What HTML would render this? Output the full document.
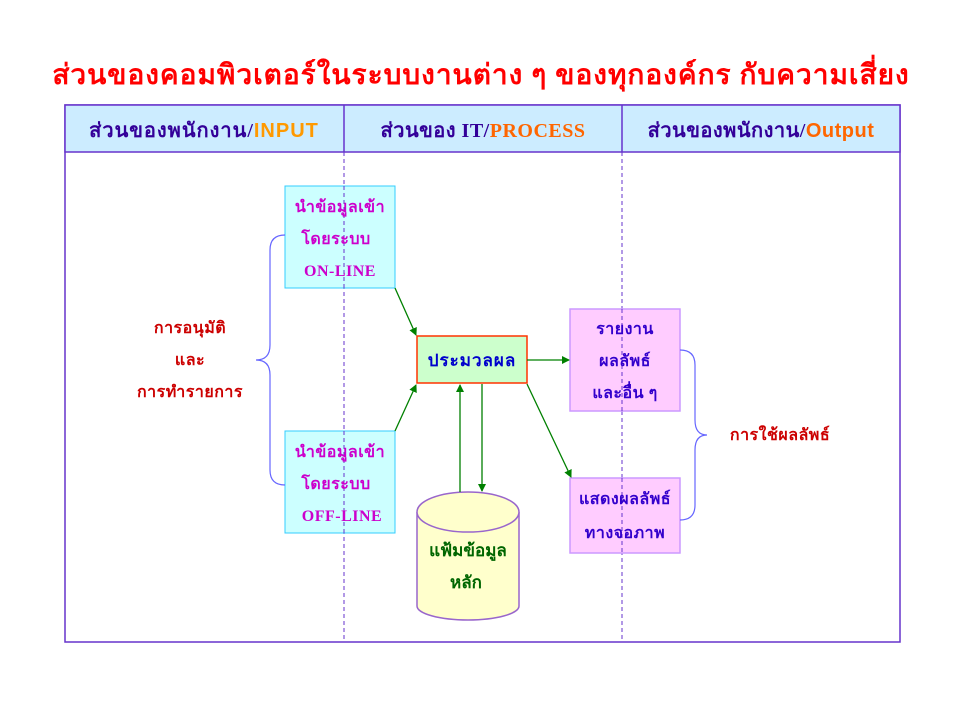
<!DOCTYPE html>
<html><head><meta charset="utf-8"><style>
html,body{margin:0;padding:0;background:#fff;width:960px;height:720px;overflow:hidden}
svg text{font-family:"Liberation Serif","DejaVu Sans",serif;font-weight:bold}
</style></head><body>
<svg width="960" height="720" viewBox="0 0 960 720" xmlns="http://www.w3.org/2000/svg">
<defs><marker id="a" markerWidth="8" markerHeight="8" refX="7" refY="4" orient="auto" markerUnits="userSpaceOnUse"><path d="M0,0 L8,4 L0,8 z" fill="#008000"/></marker></defs>
<text x="481" y="84" text-anchor="middle" font-size="28" letter-spacing="1" fill="#FF0000">ส่วนของคอมพิวเตอร์ในระบบงานต่าง ๆ ของทุกองค์กร กับความเสี่ยง</text>
<rect x="65" y="105" width="835" height="537" fill="#fff" stroke="#6633CC" stroke-width="1.5"/>
<rect x="65" y="105" width="835" height="47" fill="#CCECFF" stroke="#6633CC" stroke-width="1.5"/>
<line x1="344" y1="105" x2="344" y2="152" stroke="#6633CC" stroke-width="1.5"/>
<line x1="622" y1="105" x2="622" y2="152" stroke="#6633CC" stroke-width="1.5"/>
<line x1="344" y1="152" x2="344" y2="642" stroke="#6633CC" stroke-dasharray="4,3"/>
<line x1="622" y1="152" x2="622" y2="642" stroke="#6633CC" stroke-dasharray="4,3"/>
<text x="204" y="137" text-anchor="middle" font-size="20" letter-spacing="1" fill="#330099">ส่วนของพนักงาน/<tspan fill="#FF9900" font-family="Liberation Sans,sans-serif">INPUT</tspan></text>
<text x="483" y="137" text-anchor="middle" font-size="20" letter-spacing="0.5" fill="#330099">ส่วนของ IT/<tspan fill="#FF6600">PROCESS</tspan></text>
<text x="761" y="137" text-anchor="middle" font-size="20" letter-spacing="0.5" fill="#330099">ส่วนของพนักงาน/<tspan fill="#FF6600" font-family="Liberation Sans,sans-serif">Output</tspan></text>
<rect x="285" y="186" width="110" height="102" fill="#CCFFFF" stroke="#33CCFF"/>
<rect x="285" y="431" width="110" height="102" fill="#CCFFFF" stroke="#33CCFF"/>
<line x1="344" y1="186" x2="344" y2="288" stroke="#6633CC" stroke-dasharray="4,3"/>
<line x1="344" y1="431" x2="344" y2="533" stroke="#6633CC" stroke-dasharray="4,3"/>
<g font-size="16" fill="#CC00CC" text-anchor="middle" letter-spacing="0.5">
<text x="340" y="212">นำข้อมูลเข้า</text><text x="336" y="244">โดยระบบ</text><text x="340" y="276">ON-LINE</text>
<text x="340" y="457">นำข้อมูลเข้า</text><text x="336" y="489">โดยระบบ</text><text x="342" y="521">OFF-LINE</text>
</g>
<rect x="417" y="336" width="110" height="47" fill="#CCFFCC" stroke="#FF3300" stroke-width="1.5"/>
<text x="472" y="366" text-anchor="middle" font-size="17" letter-spacing="1" fill="#0000CC">ประมวลผล</text>
<rect x="570" y="309" width="110" height="102" fill="#FFCCFF" stroke="#CC99FF" stroke-width="1.5"/>
<rect x="570" y="478" width="110" height="75" fill="#FFCCFF" stroke="#CC99FF" stroke-width="1.5"/>
<line x1="622" y1="309" x2="622" y2="411" stroke="#6633CC" stroke-dasharray="4,3"/>
<line x1="622" y1="478" x2="622" y2="553" stroke="#6633CC" stroke-dasharray="4,3"/>
<g font-size="16" fill="#3300CC" text-anchor="middle" letter-spacing="0.5">
<text x="625" y="334">รายงาน</text><text x="625" y="366">ผลลัพธ์</text><text x="625" y="398">และอื่น ๆ</text>
<text x="625" y="504">แสดงผลลัพธ์</text><text x="625" y="538">ทางจอภาพ</text>
</g>
<path d="M417,512 L417,606 A51,14 0 0 0 519,606 L519,512" fill="#FFFFCC" stroke="#9966CC" stroke-width="1.5"/>
<ellipse cx="468" cy="512" rx="51" ry="20" fill="#FFFFCC" stroke="#9966CC" stroke-width="1.5"/>
<g font-size="17" fill="#006600" text-anchor="middle"><text x="468" y="556">แฟ้มข้อมูล</text><text x="466" y="588">หลัก</text></g>
<g stroke="#008000" stroke-width="1.3" marker-end="url(#a)">
<line x1="395" y1="288" x2="416" y2="335"/>
<line x1="395" y1="431" x2="416" y2="385"/>
<line x1="527" y1="360" x2="569" y2="360"/>
<line x1="527" y1="384" x2="571" y2="477"/>
<line x1="460" y1="492" x2="460" y2="385"/>
<line x1="482" y1="384" x2="482" y2="491"/>
</g>
<path d="M285,235 Q270,235 270,250 L270,345 Q270,360 256,360 Q270,360 270,375 L270,470 Q270,485 285,485" fill="none" stroke="#6666FF" stroke-width="1.2"/>
<path d="M680,350 Q695,350 695,365 L695,420 Q695,435 707,435 Q695,435 695,450 L695,505 Q695,520 680,520" fill="none" stroke="#6666FF" stroke-width="1.2"/>
<g font-size="16" fill="#CC0000" text-anchor="middle" letter-spacing="0.5">
<text x="190" y="333">การอนุมัติ</text><text x="190" y="365">และ</text><text x="190" y="397">การทำรายการ</text>
<text x="780" y="440">การใช้ผลลัพธ์</text>
</g>
</svg>
</body></html>
